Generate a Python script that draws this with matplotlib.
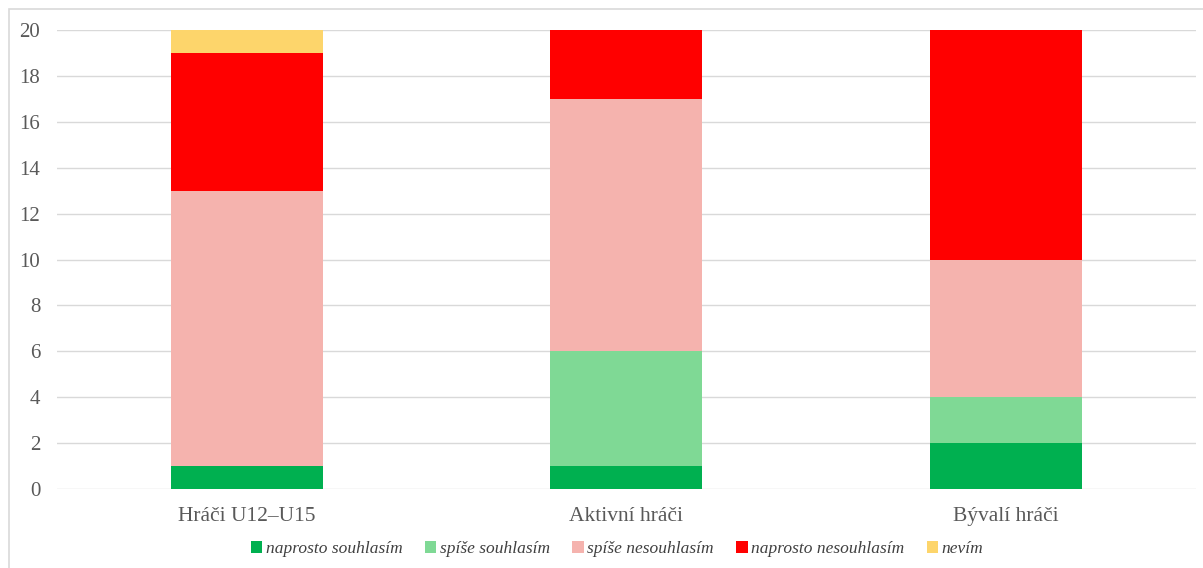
import numpy as np
import matplotlib.pyplot as plt
from matplotlib.patches import Rectangle

plt.rcParams['font.family'] = ['Liberation Serif', 'DejaVu Serif']

# Data
skupiny = ['Hráči U12–U15', 'Aktivní hráči', 'Bývalí hráči']
odpovedi = ['naprosto souhlasím', 'spíše souhlasím', 'spíše nesouhlasím',
            'naprosto nesouhlasím', 'nevím']
naprosto_souhlasim = [1, 1, 2]
spise_souhlasim = [0, 5, 2]
spise_nesouhlasim = [12, 11, 6]
naprosto_nesouhlasim = [6, 3, 10]
nevim = [1, 0, 0]
barvy = ['#00B050', '#7FD995', '#F5B3AE', '#FF0000', '#FDD56B']

serie = [naprosto_souhlasim, spise_souhlasim, spise_nesouhlasim,
         naprosto_nesouhlasim, nevim]

fig = plt.figure(figsize=(12.03, 5.68), dpi=100)
ax = fig.add_axes([0.0474, 0.139, 0.9466, 0.808])

x = np.arange(len(skupiny))
spodek = np.zeros(len(skupiny))
for hodnoty, nazev, barva in zip(serie, odpovedi, barvy):
    ax.bar(x, hodnoty, 0.4, bottom=spodek, color=barva, label=nazev, zorder=3)
    spodek += np.array(hodnoty)

ax.set_xlim(-0.5, 2.5)
ax.set_ylim(0, 20)
ax.set_yticks(range(0, 21, 2))
ax.set_xticks(x)
ax.set_xticklabels(skupiny)
ax.tick_params(axis='both', length=0, colors='#595959')
ax.tick_params(axis='y', pad=12, labelsize=15)
ax.tick_params(axis='x', pad=13, labelsize=15.5)
ax.grid(axis='y', color='#D9D9D9', linewidth=1, zorder=0)
for s in ax.spines.values():
    s.set_visible(False)

leg = fig.legend(loc='center', bbox_to_anchor=(0.513, 0.033), ncol=5,
                 frameon=False, handlelength=0.65, handleheight=0.65,
                 handletextpad=0.2, columnspacing=1.3,
                 prop={'style': 'italic', 'size': 12.5})
for t in leg.get_texts():
    t.set_color('#404040')

fig.patches.append(Rectangle((9 / 1203, -0.01), 1.0, 1 - 9 / 568 + 0.01,
                             transform=fig.transFigure, fill=False,
                             edgecolor='#D9D9D9', linewidth=1.2))

fig.savefig('out.png', dpi=100)
